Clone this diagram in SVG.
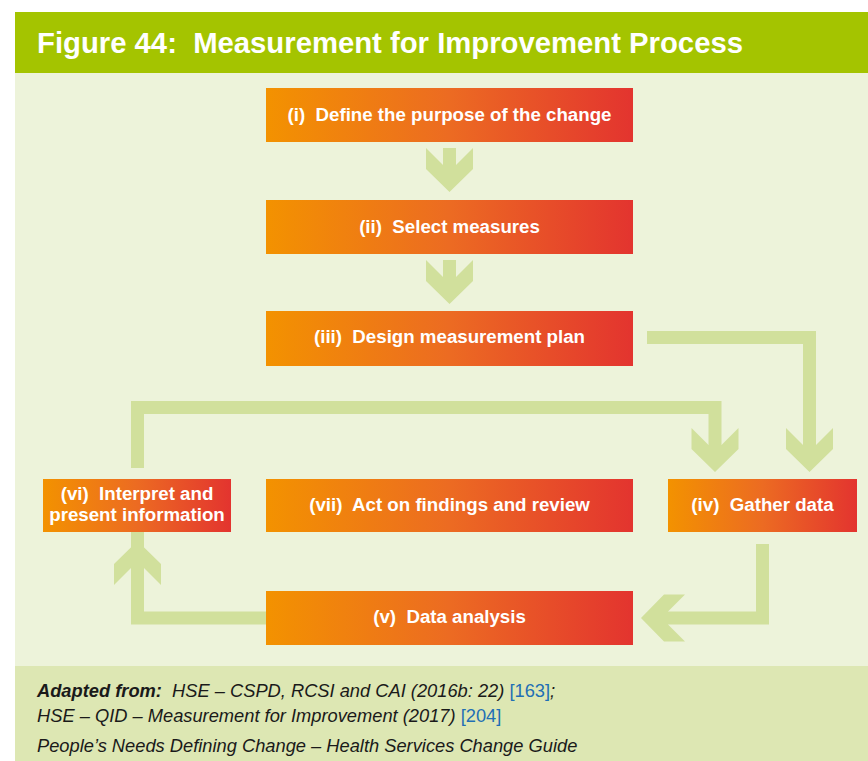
<svg xmlns="http://www.w3.org/2000/svg" width="868" height="761" viewBox="0 0 868 761">
  <defs>
    <linearGradient id="boxgrad" x1="0" y1="0" x2="1" y2="0">
      <stop offset="0" stop-color="#f39200"/>
      <stop offset="0.5" stop-color="#ec6b22"/>
      <stop offset="1" stop-color="#e3342f"/>
    </linearGradient>
    <path id="ah" d="M-6.5,-27 L-23.5,-44 L-23.5,-23 L0,0 L23.5,-23 L23.5,-44 L6.5,-27 Z"/>
  </defs>
  <style>
    .box { fill: url(#boxgrad); }
    .lbl { font-family: "Liberation Sans", Arial, Helvetica, sans-serif; font-weight: bold; font-size: 18.7px; fill: #ffffff; text-anchor: middle; }
    .shaft { fill: none; stroke: #d1e09c; stroke-width: 13; stroke-linejoin: miter; stroke-linecap: butt; }
    .head { fill: #d1e09c; }
    .foot { font-family: "Liberation Sans", Arial, Helvetica, sans-serif; font-style: italic; font-size: 18.3px; fill: #1a1a1a; }
    .ref { fill: #1f6fb5; font-style: normal; }
  </style>

  <!-- backgrounds -->
  <rect x="0" y="0" width="868" height="761" fill="#ffffff"/>
  <rect x="15" y="12" width="853" height="61" fill="#a4c400"/>
  <rect x="15" y="73" width="853" height="593" fill="#edf3da"/>
  <rect x="15" y="666" width="853" height="95" fill="#dde7b3"/>
  <text x="37" y="53" font-family="'Liberation Sans', Arial, sans-serif" font-weight="bold" font-size="29" fill="#ffffff" textLength="706" lengthAdjust="spacingAndGlyphs" xml:space="preserve">Figure 44:  Measurement for Improvement Process</text>

  <!-- connectors -->
  <g id="connectors">
    <polyline class="shaft" points="449.5,148 449.5,170"/>
    <use href="#ah" class="head" transform="translate(449.5,192)"/>
    <polyline class="shaft" points="449.5,260 449.5,282"/>
    <use href="#ah" class="head" transform="translate(449.5,304)"/>
    <polyline class="shaft" points="647,337.5 809.5,337.5 809.5,448"/>
    <use href="#ah" class="head" transform="translate(809.5,472)"/>
    <polyline class="shaft" points="137.5,468 137.5,407.5 715,407.5 715,448"/>
    <use href="#ah" class="head" transform="translate(715,472)"/>
    <polyline class="shaft" points="762.5,544 762.5,618 666,618"/>
    <use href="#ah" class="head" transform="translate(641,618) rotate(90)"/>
    <polyline class="shaft" points="266,618 137.5,618 137.5,516"/>
    <use href="#ah" class="head" transform="translate(137.5,541) rotate(180)"/>
  </g>

  <!-- nodes -->
  <g id="node-i">
    <rect class="box" x="266" y="88" width="367" height="54"/>
    <text class="lbl" x="449.5" y="121" xml:space="preserve">(i)  Define the purpose of the change</text>
  </g>
  <g id="node-ii">
    <rect class="box" x="266" y="200" width="367" height="54"/>
    <text class="lbl" x="449.5" y="233" xml:space="preserve">(ii)  Select measures</text>
  </g>
  <g id="node-iii">
    <rect class="box" x="266" y="311" width="367" height="55"/>
    <text class="lbl" x="449.5" y="343" xml:space="preserve">(iii)  Design measurement plan</text>
  </g>
  <g id="node-iv">
    <rect class="box" x="668" y="479" width="189" height="53"/>
    <text class="lbl" x="762.5" y="511" xml:space="preserve">(iv)  Gather data</text>
  </g>
  <g id="node-v">
    <rect class="box" x="266" y="591" width="367" height="54"/>
    <text class="lbl" x="449.5" y="623" xml:space="preserve">(v)  Data analysis</text>
  </g>
  <g id="node-vi">
    <rect class="box" x="43" y="479" width="188" height="53"/>
    <text class="lbl" x="137" y="500" xml:space="preserve">(vi)  Interpret and</text>
    <text class="lbl" x="137" y="521">present information</text>
  </g>
  <g id="node-vii">
    <rect class="box" x="266" y="479" width="367" height="53"/>
    <text class="lbl" x="449.5" y="511" xml:space="preserve">(vii)  Act on findings and review</text>
  </g>

  <!-- footer -->
  <g id="footer">
    <text class="foot" x="37" y="697" xml:space="preserve"><tspan font-weight="bold">Adapted from:</tspan>  HSE – CSPD, RCSI and CAI (2016b: 22) <tspan class="ref">[163]</tspan>;</text>
    <text class="foot" x="37" y="722" xml:space="preserve">HSE – QID – Measurement for Improvement (2017) <tspan class="ref">[204]</tspan></text>
    <text class="foot" x="37" y="752">People’s Needs Defining Change – Health Services Change Guide</text>
  </g>
</svg>
